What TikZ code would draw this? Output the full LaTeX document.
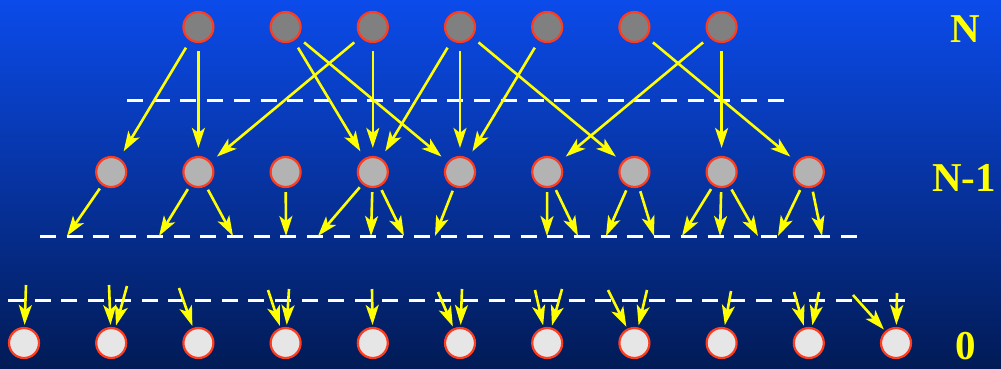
\documentclass[tikz,border=0pt]{standalone}
\usepackage{fontspec}
\setmainfont{Liberation Serif}
\usetikzlibrary{arrows.meta}
\definecolor{bgtop}{RGB}{11,75,234}
\definecolor{bgmid}{RGB}{4,55,178}
\definecolor{bgbot}{RGB}{2,27,86}
\definecolor{rim}{RGB}{255,60,30}
\definecolor{lvlN}{RGB}{128,128,128}
\definecolor{lvlM}{RGB}{179,179,179}
\definecolor{lvlZ}{RGB}{230,230,230}
\definecolor{arr}{RGB}{255,255,0}
\begin{document}
\begin{tikzpicture}[x=1pt,y=-1pt,
  ball/.style={circle,draw=rim,line width=2.2pt,minimum size=30pt,inner sep=0pt},
  link/.style={draw=arr,line width=2.6pt,-{Stealth[length=20pt,width=13pt,inset=5pt]}},
  guide/.style={draw=white,line width=3pt,dash pattern=on 16pt off 10.7pt},
  level/.style={text=arr,inner sep=0pt,font=\bfseries\fontsize{41}{41}\selectfont}]

% background
\shade[top color=bgtop,middle color=bgmid,bottom color=bgbot] (0,0) rectangle (1001,368);
\useasboundingbox (0,0) rectangle (1001,368);

% level separators
\draw[guide] (127,100) -- (790,100);
\draw[guide] (40,236) -- (862,236);
\draw[guide] (8,300) -- (910,300);

% level N, N-1 and 0 blocks
\foreach \k in {2,...,8} \node[ball,fill=lvlN] (t\k) at ({24+87.2*\k},27) {};
\foreach \k in {1,...,9} \node[ball,fill=lvlM] (m\k) at ({24+87.2*\k},172) {};
\foreach \k in {0,...,10} \node[ball,fill=lvlZ] (b\k) at ({24+87.2*\k},343) {};

% level N -> level N-1
\foreach \a/\b in {2/1,2/2,3/4,3/5,4/2,4/4,5/4,5/5,5/7,6/5,7/9,8/6,8/8}
  \draw[link,shorten <=8pt,shorten >=8pt] (t\a) -- (m\b);

% level N-1 -> separator
\foreach \k/\x in {1/67,2/159,2/233,3/286,4/318,4/371,4/404,5/435,6/547,6/578,
                   7/606,7/654,8/682,8/720,8/758,9/778,9/822} {
  \coordinate (e\k-\x) at (\x,236);
  \draw[link,shorten <=4pt] (m\k) -- (e\k-\x);
}

% separator -> level 0
\foreach \k/\x/\y in {0/26/285,1/109/285,1/127/286,2/179/288,3/268/290,3/289/289,
                      4/372/289,5/438/292,5/462/289,6/535/290,6/562/289,7/608/290,
                      7/647/290,8/731/291,9/794/292,9/819/292,10/853/295,10/897/293} {
  \coordinate (s\k-\x) at (\x,\y);
  \draw[link,shorten >=2pt] (s\k-\x) -- (b\k);
}

% level labels
\node[level] (lN) at (965,29) {N};
\node[level] (lN1) at (964,178) {N-1};
\node[level] (l0) at (966,346) {0};
\end{tikzpicture}
\end{document}
